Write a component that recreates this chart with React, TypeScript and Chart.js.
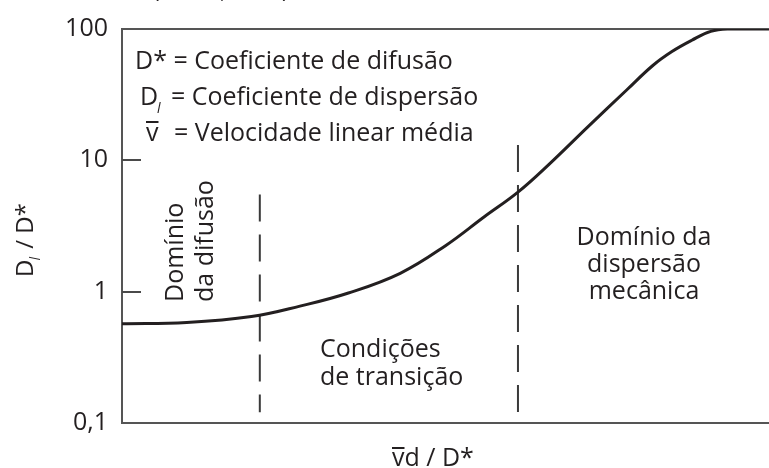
import React, { useEffect, useRef } from 'react';
import { Chart, registerables } from 'chart.js';

Chart.register(...registerables);

// Curve: D_l / D* against v̄d / D* (x in arbitrary relative units 0..100)
const curveX = [0, 10, 20, 27.5, 35, 43, 50, 56, 61.2, 66, 72, 78, 82, 85, 88, 91, 94, 100];
const curveY = [0.57, 0.582, 0.646, 0.776, 0.977, 1.38, 2.24, 3.72, 5.73, 9.33, 18.0, 34.3, 52.5, 67.3, 81.7, 95.9, 100, 100];

// Vertical dashed separators
const dashX = [21.3, 61.2];
const dashTop = [5.5, 13.1];
const dashBottom = [0.121, 0.119];

// Y axis ticks
const yTicks = [0.1, 1, 10, 100];
const yTickLabels = ['0,1', '1', '10', '100'];
const innerTicks = [1, 10];

// Texts
const legendRows = ['Coeficiente de difusão', 'Coeficiente de dispersão', 'Velocidade linear média'];
const regionDiffusion = ['Domínio', 'da difusão'];
const regionTransition = ['Condições', 'de transição'];
const regionMechanical = ['Domínio da', 'dispersão', 'mecânica'];
const sourceText = '(Fetter, 1994)';

const FONT = '"Open Sans", "Noto Sans", sans-serif';
const INK = '#231f20';
const FS = 25;

const textPlugin = {
  id: 'textPlugin',
  afterDraw(chart: any) {
    const ctx = chart.ctx as CanvasRenderingContext2D;
    const xs = chart.scales.x;
    const ys = chart.scales.y;
    ctx.save();

    // inward tick marks
    ctx.strokeStyle = '#4a4a4a';
    ctx.lineWidth = 2;
    innerTicks.forEach((v) => {
      const py = Math.round(ys.getPixelForValue(v));
      ctx.beginPath();
      ctx.moveTo(xs.left, py);
      ctx.lineTo(xs.left + 19, py);
      ctx.stroke();
    });

    ctx.fillStyle = INK;
    ctx.textBaseline = 'alphabetic';
    ctx.textAlign = 'left';
    const f = (s: number, it = false) => `${it ? 'italic ' : ''}${s}px ${FONT}`;

    // cut-off source text at the very top
    ctx.font = f(22);
    ctx.fillText(sourceText, 153, -2);

    // legend
    ctx.font = f(FS);
    ctx.fillText('D* = ' + legendRows[0], 135, 69);
    ctx.fillText('D', 140, 105);
    ctx.font = f(14, true);
    ctx.fillText('l', 157, 113);
    ctx.font = f(FS);
    ctx.fillText('= ' + legendRows[1], 171, 105);
    ctx.fillText('v', 146, 141);
    const vw = ctx.measureText('v').width;
    ctx.fillRect(146, 121, vw, 2);
    ctx.fillText('= ' + legendRows[2], 174, 141);

    // region: diffusion (rotated)
    regionDiffusion.forEach((t, i) => {
      ctx.save();
      ctx.translate(183 + i * 30, 302);
      ctx.rotate(-Math.PI / 2);
      ctx.fillText(t, 0, 0);
      ctx.restore();
    });

    // region: transition
    regionTransition.forEach((t, i) => {
      ctx.fillText(t, 320, 357 + i * 28);
    });

    // region: mechanical dispersion
    ctx.textAlign = 'center';
    regionMechanical.forEach((t, i) => {
      ctx.fillText(t, 644, 245 + i * 27);
    });

    // x axis title: v̄d / D*
    ctx.textAlign = 'left';
    const xt0 = 392;
    ctx.fillText('vd / D*', xt0, 466);
    const vw2 = ctx.measureText('v').width;
    ctx.fillRect(xt0, 447, vw2, 2);

    // y axis title: D_l / D* (rotated)
    ctx.save();
    ctx.translate(33, 240);
    ctx.rotate(-Math.PI / 2);
    ctx.font = f(24);
    const wD = ctx.measureText('D').width;
    ctx.font = f(14, true);
    const wl = ctx.measureText('l').width;
    ctx.font = f(24);
    const wRest = ctx.measureText(' / D*').width;
    const total = wD + wl + 1 + wRest;
    let cx = -total / 2;
    ctx.fillText('D', cx, 0);
    cx += wD;
    ctx.font = f(14, true);
    ctx.fillText('l', cx - 1, 7);
    cx += wl + 1;
    ctx.font = f(24);
    ctx.fillText(' / D*', cx, 0);
    ctx.restore();

    ctx.restore();
  },
};

export default function App() {
  const ref = useRef<HTMLCanvasElement>(null);

  useEffect(() => {
    if (!ref.current) return;
    const frame = { display: true, color: '#555555', width: 2 };
    const chart = new Chart(ref.current, {
      type: 'line',
      data: {
        datasets: [
          {
            data: curveX.map((x, i) => ({ x, y: curveY[i] })),
            borderColor: INK,
            borderWidth: 3,
            pointRadius: 0,
            tension: 0.4,
            fill: false,
          },
          ...dashX.map((dx, i) => ({
            data: [
              { x: dx, y: dashTop[i] },
              { x: dx, y: dashBottom[i] },
            ],
            borderColor: '#3a3a3a',
            borderWidth: 2,
            borderDash: [27, 13],
            pointRadius: 0,
            fill: false,
          })),
        ],
      },
      options: {
        animation: false,
        responsive: false,
        devicePixelRatio: 1,
        layout: { padding: 0 },
        plugins: { legend: { display: false }, tooltip: { enabled: false }, title: { display: false } },
        events: [],
        scales: {
          x: {
            type: 'linear',
            position: 'bottom',
            min: 0,
            max: 100,
            ticks: { display: false },
            grid: { display: false, drawTicks: false },
            border: frame,
            afterFit: (s: any) => {
              s.height = 45;
            },
          },
          xTop: {
            type: 'linear',
            position: 'top',
            min: 0,
            max: 100,
            ticks: { display: false },
            grid: { display: false, drawTicks: false },
            border: frame,
            afterFit: (s: any) => {
              s.height = 22;
            },
          },
          y: {
            type: 'logarithmic',
            min: 0.1,
            max: 100,
            afterBuildTicks: (s: any) => {
              s.ticks = yTicks.map((v) => ({ value: v }));
            },
            ticks: {
              autoSkip: false,
              padding: 14,
              color: INK,
              font: { family: FONT, size: FS },
              callback: (v: any) => {
                const i = yTicks.findIndex((t) => Math.abs(t - Number(v)) < 1e-9);
                return i >= 0 ? yTickLabels[i] : '';
              },
            },
            grid: { display: false, drawTicks: false },
            border: frame,
            afterFit: (s: any) => {
              s.width = 122;
            },
          },
        },
      } as any,
      plugins: [textPlugin],
    });
    return () => chart.destroy();
  }, []);

  return (
    <div style={{ position: 'fixed', left: 0, top: 0, width: 769, height: 468, background: '#fff' }}>
      <canvas ref={ref} width={769} height={468} style={{ display: 'block' }} />
    </div>
  );
}
